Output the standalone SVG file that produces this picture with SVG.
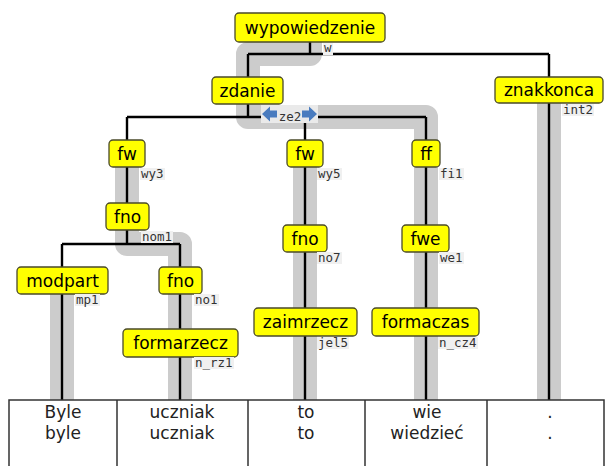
<svg xmlns="http://www.w3.org/2000/svg" width="605" height="466" viewBox="0 0 605 466">
<style>
.hl{fill:none;stroke:#cccccc;stroke-width:24;stroke-linejoin:round;stroke-linecap:butt}
.ln{fill:none;stroke:#000;stroke-width:2.4}
.nb{fill:#ffff00;stroke:#4a4a2a;stroke-width:1.3}
.nt{font-family:"DejaVu Sans",sans-serif;font-size:17px;fill:#000;text-anchor:middle}
.lb{font-family:"DejaVu Sans Mono",monospace;font-size:12.5px;fill:#333}
.lbg{fill:#f0f0f0}
.tb{fill:none;stroke:#333;stroke-width:1.5}
.tt{font-family:"DejaVu Sans",sans-serif;font-size:17px;fill:#222;text-anchor:middle}
.ar{fill:#4a7cbf}
</style>
<rect width="605" height="466" fill="#fff"/>
<g id="highlights">
<path class="hl" d="M310,27 V54 H248 V117 H426 V400"/>
<path class="hl" d="M549,90 V400"/>
<path class="hl" d="M305,153 V400"/>
<path class="hl" d="M127,153 V244 H180 V400"/>
<path class="hl" d="M62,280 V400"/>
</g>
<g id="connectors">
<path class="ln" d="M310,42 V54 M248,54 H549 M248,54 V77 M549,54 V77 M549,103 V400"/>
<path class="ln" d="M248,104 V117 M127,117 H426 M127,117 V140 M305,117 V140 M426,117 V140"/>
<path class="ln" d="M127,167 V203 M127,230 V244 M62,244 H180 M62,244 V267 M180,244 V267 M62,294 V400 M180,294 V329 M180,357 V400"/>
<path class="ln" d="M305,167 V225 M305,252 V308 M305,336 V400 M426,167 V225 M426,252 V308 M426,336 V400"/>
</g>
<g id="ze2">
<rect x="261" y="105" width="57" height="18" fill="#eaeaea"/>
<polygon class="ar" points="262,114 270,106.5 270,110.5 277,110.5 277,117.5 270,117.5 270,121.5"/>
<polygon class="ar" points="317,114 309,106.5 309,110.5 302,110.5 302,117.5 309,117.5 309,121.5"/>
<text class="lb" x="290" y="121" text-anchor="middle">ze2</text>
</g>
<g id="n-wypowiedzenie"><rect class="nb" x="235" y="13" width="150" height="29" rx="4"/><text class="nt" x="310" y="34">wypowiedzenie</text></g>
<g id="n-zdanie"><rect class="nb" x="212" y="77" width="71" height="27" rx="4"/><text class="nt" x="247.5" y="96.5">zdanie</text></g>
<g id="n-znakkonca"><rect class="nb" x="495" y="77" width="108" height="26" rx="4"/><text class="nt" x="549" y="96">znakkonca</text></g>
<g id="n-fw1"><rect class="nb" x="109" y="140" width="36" height="27" rx="4"/><text class="nt" x="127" y="159.5">fw</text></g>
<g id="n-fw2"><rect class="nb" x="287" y="140" width="36" height="27" rx="4"/><text class="nt" x="305" y="159.5">fw</text></g>
<g id="n-ff"><rect class="nb" x="412" y="140" width="28" height="27" rx="4"/><text class="nt" x="426" y="159.5">ff</text></g>
<g id="n-fno1"><rect class="nb" x="106" y="203" width="43" height="27" rx="4"/><text class="nt" x="127.5" y="222.5">fno</text></g>
<g id="n-fno3"><rect class="nb" x="283" y="225" width="44" height="27" rx="4"/><text class="nt" x="305" y="244.5">fno</text></g>
<g id="n-fwe"><rect class="nb" x="402" y="225" width="47" height="27" rx="4"/><text class="nt" x="425.5" y="244.5">fwe</text></g>
<g id="n-modpart"><rect class="nb" x="17" y="267" width="91" height="27" rx="4"/><text class="nt" x="62.5" y="286.5">modpart</text></g>
<g id="n-fno2"><rect class="nb" x="159" y="267" width="43" height="27" rx="4"/><text class="nt" x="180.5" y="286.5">fno</text></g>
<g id="n-formarzecz"><rect class="nb" x="123" y="329" width="115" height="28" rx="4"/><text class="nt" x="180.5" y="349">formarzecz</text></g>
<g id="n-zaimrzecz"><rect class="nb" x="254" y="308" width="103" height="28" rx="4"/><text class="nt" x="305.5" y="328">zaimrzecz</text></g>
<g id="n-formaczas"><rect class="nb" x="372" y="308" width="107" height="28" rx="4"/><text class="nt" x="425.5" y="328">formaczas</text></g>
<g id="labels">
<rect class="lbg" x="323" y="43" width="10" height="12"/><text class="lb" x="324" y="52">w</text>
<rect class="lbg" x="562" y="104" width="32" height="12"/><text class="lb" x="563" y="114">int2</text>
<rect class="lbg" x="140" y="168" width="25" height="12"/><text class="lb" x="141" y="178">wy3</text>
<rect class="lbg" x="317" y="168" width="25" height="12"/><text class="lb" x="318" y="178">wy5</text>
<rect class="lbg" x="439" y="168" width="25" height="12"/><text class="lb" x="440" y="178">fi1</text>
<rect class="lbg" x="141" y="231" width="32" height="12"/><text class="lb" x="142" y="241">nom1</text>
<rect class="lbg" x="317" y="252" width="25" height="12"/><text class="lb" x="318" y="262">no7</text>
<rect class="lbg" x="439" y="252" width="25" height="12"/><text class="lb" x="440" y="262">we1</text>
<rect class="lbg" x="75" y="294" width="25" height="12"/><text class="lb" x="76" y="304">mp1</text>
<rect class="lbg" x="194" y="294" width="25" height="12"/><text class="lb" x="195" y="304">no1</text>
<rect class="lbg" x="317" y="337" width="32" height="12"/><text class="lb" x="318" y="347">jel5</text>
<rect class="lbg" x="438" y="337" width="40" height="12"/><text class="lb" x="439" y="347">n_cz4</text>
<rect class="lbg" x="194" y="357" width="40" height="12"/><text class="lb" x="195" y="367">n_rz1</text>
</g>
<g id="table">
<rect class="tb" x="9" y="400" width="595" height="80"/>
<path class="tb" d="M117,400 V470 M248,400 V470 M365,400 V470 M487,400 V470"/>
<text class="tt" x="63" y="418">Byle</text><text class="tt" x="63" y="439">byle</text>
<text class="tt" x="182" y="418">uczniak</text><text class="tt" x="182" y="439">uczniak</text>
<text class="tt" x="306" y="418">to</text><text class="tt" x="306" y="439">to</text>
<text class="tt" x="427" y="418">wie</text><text class="tt" x="427" y="439">wiedzieć</text>
<text class="tt" x="550" y="418">.</text><text class="tt" x="550" y="439">.</text>
</g>
</svg>
